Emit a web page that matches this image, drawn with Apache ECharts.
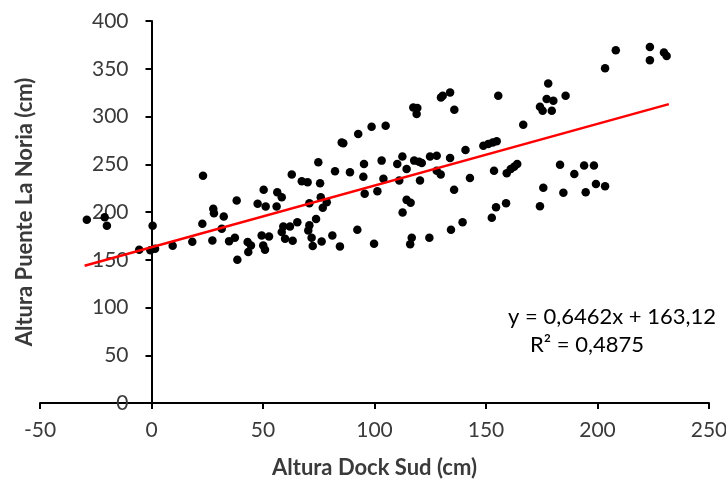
<!DOCTYPE html>
<html>
<head>
<meta charset="utf-8">
<script src="https://cdn.jsdelivr.net/npm/echarts@6/dist/echarts.min.js"></script>
<style>
html,body{margin:0;padding:0;background:#fff;}
#chart{width:726px;height:483px;}
</style>
</head>
<body>
<div id="chart"></div>
<script>
// Altura Dock Sud (cm)
const dockSud = [
 -29, -21, -20, -5.5, 0.5, -0.5, 1.6, 9.5, 18.3, 23.1,
 22.8, 27.3, 27.7, 28, 32.4, 31.5, 34.8, 37.4, 38.2, 38.5,
 43.1, 44.6, 43.4, 47.6, 50.3, 51.2, 49.4, 52.7, 50.1, 50.9,
 56.4, 58.4, 56.1, 59.1, 62.1, 58.4, 59.9, 63.3, 65.4, 62.9,
 67.4, 70, 70.8, 75.6, 74.8, 75.9, 78.6, 76.8, 73.8, 70.8,
 70.3, 71.8, 72.3, 76.3, 81.1, 84.5, 82.3, 85.3, 86, 89,
 92.7, 98.7, 105, 95.3, 95, 95.6, 103.2, 104, 101.3, 92.3,
 99.8, 110.2, 112.5, 114.4, 111.1, 117.8, 120, 121.2, 120.4, 124.9,
 127.9, 133.9, 140.8, 127.9, 129.7, 135.7, 142.8, 114.4, 116.2, 112.6,
 116.7, 116, 124.6, 134.3, 139.5, 117.4, 119.2, 118.9, 129.8, 130.6,
 133.9, 135.8, 155.5, 166.7, 177.9, 177.2, 180.2, 174.2, 175.4, 179.5,
 148.8, 151, 153, 154.8, 153.6, 159.3, 161.1, 162.6, 164, 183.2,
 194, 198.4, 189.6, 175.7, 184.7, 194.7, 199.3, 203.4, 174.2, 152.6,
 154.5, 159, 208.2, 203.4, 223.5, 223.5, 229.8, 231, 185.7
];
// Altura Puente La Noria (cm)
const puenteLaNoria = [
 192, 194.6, 185.6, 160.5, 185.6, 160, 161.6, 164.7, 168.9, 238,
 187.7, 170.2, 203.3, 198.8, 195.3, 182.5, 169.5, 173, 212, 150,
 168.5, 165, 158, 208.6, 223.2, 205.7, 175.5, 174.4, 165, 160.5,
 220.7, 215.5, 205.7, 184.9, 184.9, 179, 172, 170, 189.3, 239.2,
 232.2, 231.1, 209.2, 230.1, 252, 215.5, 210.2, 204.4, 192.7, 186,
 180.7, 173, 164.3, 169, 175.5, 164, 242.6, 272.9, 271.9, 241.6,
 281.7, 289.3, 290.3, 250.3, 237, 219, 253.8, 234.7, 221.7, 181.4,
 166.8, 250.3, 258, 245.1, 232.9, 253.8, 252.7, 251.4, 232.9, 258,
 259, 256.6, 265, 243.3, 239.2, 223.2, 235.7, 212.7, 209.6, 199.5,
 173, 166.2, 173, 181.4, 189.3, 309.5, 308.8, 302.6, 319.9, 321.7,
 325.1, 307, 321.7, 291.4, 334.5, 318.2, 316.4, 310.2, 306, 306,
 269.4, 271.2, 272.9, 274, 243.3, 240.5, 245.1, 247.5, 250.3, 249.6,
 248.6, 248.6, 239.9, 225.3, 220.1, 220.7, 229.4, 226.9, 206.1, 193.9,
 205, 209.2, 369.4, 350.6, 372.8, 359, 366.9, 363.4, 321.7
];
// linear trend line end points (as drawn)
const trendX = [-30, 232];
const trendY = [143.7, 313.0];
const xTicks = { min: -50, max: 250, step: 50 };
const yTicks = { min: 0, max: 400, step: 50 };
const equationText = 'y = 0,6462x + 163,12';
const r2Text = 'R² = 0,4875';

const scatterData = dockSud.map((x, i) => [x, puenteLaNoria[i]]);
const trendData = trendX.map((x, i) => [x, trendY[i]]);

const FONT = 'Lato, "Open Sans", sans-serif';
const GRID_LEFT = 40;
const chart = echarts.init(document.getElementById('chart'), null, { renderer: 'canvas' });
chart.setOption({
  animation: false,
  backgroundColor: '#ffffff',
  grid: { left: GRID_LEFT, right: 17, top: 21, bottom: 80, containLabel: false, outerBoundsMode: 'none' },
  xAxis: {
    type: 'value', min: xTicks.min, max: xTicks.max, interval: xTicks.step,
    name: 'Altura Dock Sud (cm)', nameLocation: 'middle', nameGap: 54,
    nameTextStyle: { fontFamily: FONT, fontSize: 22, fontWeight: 'bold', color: '#3a3a3a' },
    axisLine: { onZero: true, lineStyle: { color: '#000', width: 2 } },
    axisTick: { show: true, inside: false, length: 6, lineStyle: { color: '#000', width: 2 } },
    axisLabel: { fontFamily: FONT, fontSize: 21, color: '#3a3a3a', margin: 17 },
    splitLine: { show: false }
  },
  yAxis: {
    type: 'value', min: yTicks.min, max: yTicks.max, interval: yTicks.step,
    name: 'Altura Puente La Noria (cm)', nameLocation: 'middle', nameGap: 116,
    nameTextStyle: { fontFamily: FONT, fontSize: 22, fontWeight: 'bold', color: '#3a3a3a' },
    axisLine: { onZero: false, lineStyle: { color: '#000', width: 2 } },
    axisTick: { show: true, inside: false, length: 6, lineStyle: { color: '#000', width: 2 } },
    axisLabel: { fontFamily: FONT, fontSize: 21, color: '#3a3a3a', margin: 23 },
    splitLine: { show: false }
  },
  series: [
    {
      type: 'scatter', data: scatterData, symbol: 'circle', symbolSize: 8.5,
      itemStyle: { color: '#000', opacity: 1 }, z: 3
    },
    {
      type: 'line', data: trendData, symbol: 'none',
      lineStyle: { color: '#ff0000', width: 2.5 }, z: 4
    }
  ],
  graphic: [
    { type: 'text', right: 10, top: 306, style: { text: equationText, font: '22px ' + FONT, fill: '#000' } },
    { type: 'text', left: 530, top: 334, style: { text: r2Text, font: '22px ' + FONT, fill: '#000' } }
  ]
});
// place the y axis where x = 0 (axis crosses at zero, as in the original)
const zeroPx = chart.convertToPixel({ xAxisIndex: 0 }, 0);
chart.setOption({ yAxis: { offset: -(zeroPx - GRID_LEFT) } });
</script>
</body>
</html>
